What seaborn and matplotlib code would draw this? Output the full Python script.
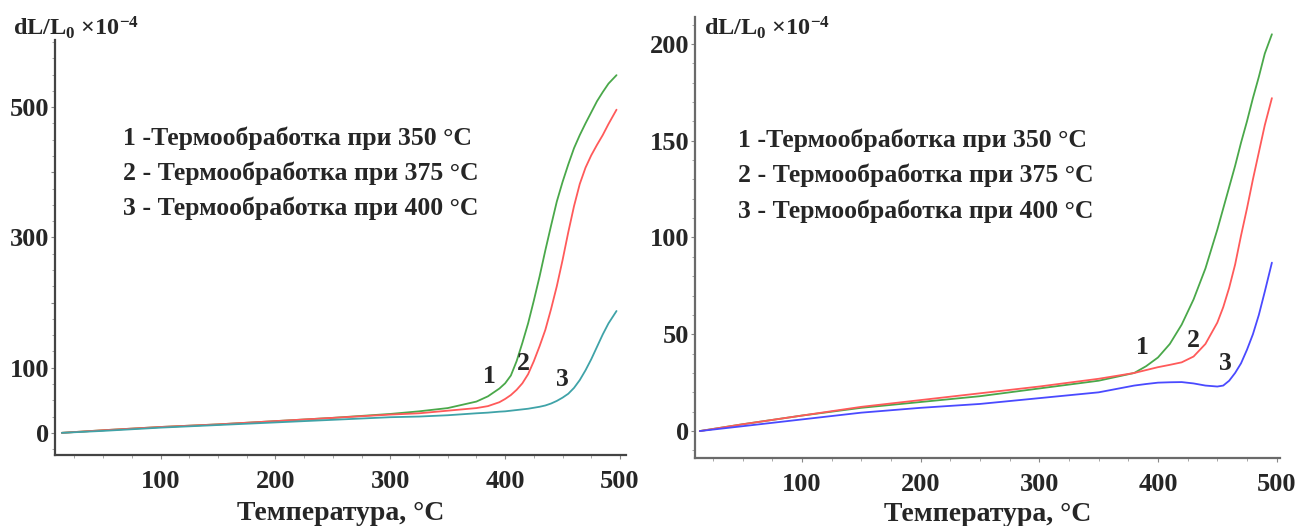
import numpy as np
import pandas as pd
import matplotlib
matplotlib.use("Agg")
import matplotlib.pyplot as plt
from matplotlib.ticker import MultipleLocator, FixedLocator
import seaborn as sns

# ==========================================
# Data
# ==========================================
# left panel
t_left = [14, 50, 100, 150, 200, 250, 300, 325, 350, 375, 385, 395, 400, 405, 410,
          415, 420, 425, 430, 435, 440, 445, 450, 455, 460, 465, 470, 475, 480,
          485, 490, 497]
left_350 = [0, 4, 9, 13, 18, 23, 29, 33, 38, 48, 56, 68, 76, 88, 110,
            138, 168, 203, 240, 280, 318, 355, 385, 412, 437, 457, 475, 492, 509,
            523, 536, 549]
left_375 = [0, 4, 9, 13, 18, 23, 28, 30, 34, 38, 41, 47, 52, 58, 66,
            76, 90, 110, 133, 158, 190, 225, 265, 308, 348, 382, 407, 426, 442,
            457, 474, 496]
left_400 = [0, 3, 8, 12, 16, 20, 24, 25, 27, 30, 31, 32.5, 33, 34, 35,
            36, 37, 38.5, 40, 42, 45, 49, 54, 60, 69, 81, 96, 113, 132,
            151, 168, 187]

# right panel
t_right = [14, 50, 100, 150, 200, 250, 300, 350, 380, 390, 400, 410, 420, 430,
           440, 450, 455, 460, 465, 470, 475, 480, 485, 490, 496]
right_350 = [0, 3.5, 8, 12, 15, 18, 22, 26, 30, 33.5, 38, 45, 55, 68,
             84, 104, 115, 126, 137, 149, 160, 172, 183, 195, 205]
right_375 = [0, 3.5, 8, 12.5, 16, 19.5, 23, 27, 30, 31.5, 33, 34.2, 35.5, 38.5,
             45, 56, 64, 74, 86, 101, 115, 130, 144, 158, 172]
right_400 = [0, 2.5, 6, 9.5, 12, 14, 17, 20, 23.5, 24.3, 25, 25.2, 25.3, 24.6,
             23.5, 23, 23.5, 26, 30, 35, 42, 50, 60, 72, 87]

legend_lines = ["1 -Термообработка при 350 °C",
                "2 - Термообработка при 375 °C",
                "3 - Термообработка при 400 °C"]
xlabel = "Температура, °C"
ylabel = "dL/L$_0$ ×10$^{-4}$"

# curve number labels (T, value)
left_marks = {"1": (386, 86), "2": (416, 107), "3": (450, 82)}
right_marks = {"1": (387, 43), "2": (430, 47), "3": (457, 35)}

# ==========================================
# Style
# ==========================================
sns.set_style("ticks")
plt.rcParams["font.family"] = ["Liberation Serif", "DejaVu Serif"]
plt.rcParams["font.weight"] = "bold"
plt.rcParams["mathtext.fontset"] = "custom"
plt.rcParams["mathtext.rm"] = "Liberation Serif:bold"
plt.rcParams["mathtext.it"] = "Liberation Serif:bold"
plt.rcParams["mathtext.bf"] = "Liberation Serif:bold"

GREEN = "#4aa84a"
RED = "#ff5a5a"
TEAL = "#3fa3a8"
BLUE = "#4a4aff"
SPINE = "#444444"
FS = 18.5

fig = plt.figure(figsize=(13.09, 5.26), dpi=100)
ax1 = fig.add_axes([0.042, 0.135, 0.436, 0.789])
ax2 = fig.add_axes([0.531, 0.129, 0.447, 0.839])


def style_axis(ax, color, label_y):
    sns.despine(ax=ax)
    for s in ["left", "bottom"]:
        ax.spines[s].set_linewidth(1.6)
        ax.spines[s].set_color(color)
    ax.tick_params(which="major", length=3, width=0.8, color="#888888",
                   labelsize=19, pad=1)
    ax.tick_params(which="minor", length=2, width=0.6, color="#999999")
    ax.tick_params(axis="x", pad=8)
    ax.xaxis.set_major_locator(FixedLocator([100, 200, 300, 400, 500]))
    ax.xaxis.set_minor_locator(MultipleLocator(25))
    ax.set_xlabel(xlabel, fontsize=20, fontweight="bold")
    ax.xaxis.set_label_coords(0.5, label_y)
    ax.set_ylabel("")


# --- left panel ---
sns.lineplot(x=t_left, y=left_350, ax=ax1, color=GREEN, linewidth=1.3)
sns.lineplot(x=t_left, y=left_375, ax=ax1, color=RED, linewidth=1.3)
sns.lineplot(x=t_left, y=left_400, ax=ax1, color=TEAL, linewidth=1.3)
ax1.set_xlim(8, 505)
ax1.set_ylim(-34, 603)
style_axis(ax1, SPINE, -0.112)
ax1.set_yticks([0, 100, 200, 300, 400, 500])
ax1.set_yticklabels(["0", "100", "", "300", "", "500"])
ax1.yaxis.set_minor_locator(MultipleLocator(25))
fig.text(0.010, 0.933, ylabel, fontsize=17.5, fontweight="bold", ha="left", va="baseline")
for i, line in enumerate(legend_lines):
    ax1.text(0.12, 0.764 - i * 0.0843, line, transform=ax1.transAxes,
             fontsize=FS, fontweight="bold", va="center")
for k, (tx, ty) in left_marks.items():
    ax1.text(tx, ty, k, fontsize=FS, fontweight="bold", ha="center", va="center")

# --- right panel ---
sns.lineplot(x=t_right, y=right_350, ax=ax2, color=GREEN, linewidth=1.3)
sns.lineplot(x=t_right, y=right_375, ax=ax2, color=RED, linewidth=1.3)
sns.lineplot(x=t_right, y=right_400, ax=ax2, color=BLUE, linewidth=1.3)
ax2.set_xlim(10, 503)
ax2.set_ylim(-14, 214)
style_axis(ax2, "#6a6a6a", -0.099)
ax2.set_yticks([0, 50, 100, 150, 200])
ax2.yaxis.set_minor_locator(MultipleLocator(10))
ax2.text(0.015, 0.959, ylabel, transform=ax2.transAxes, fontsize=17.5,
         fontweight="bold", ha="left", va="baseline")
for i, line in enumerate(legend_lines):
    ax2.text(0.074, 0.72 - i * 0.080, line, transform=ax2.transAxes,
             fontsize=FS, fontweight="bold", va="center")
for k, (tx, ty) in right_marks.items():
    ax2.text(tx, ty, k, fontsize=FS, fontweight="bold", ha="center", va="center")

fig.savefig("out.png", dpi=100)
